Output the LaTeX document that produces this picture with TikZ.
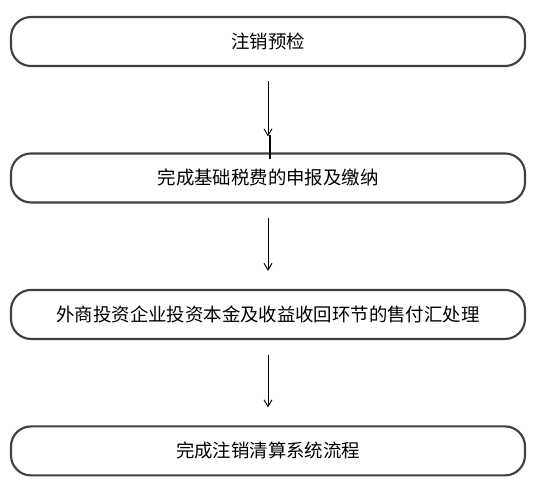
\documentclass[tikz,border=0pt]{standalone}
\usepackage{fontspec}
\setmainfont{Noto Sans CJK SC}
\usetikzlibrary{arrows.meta,positioning}
\definecolor{box-border}{HTML}{404040}

\begin{document}
\begin{tikzpicture}[x=0.75pt, y=-0.75pt, node distance=64pt,
    >={Straight Barb[length=5pt, width=6pt]},
    stage/.style={draw=box-border, line width=1.6pt, rounded corners=15pt,
      minimum width=385.5pt, minimum height=36.75pt,
      font=\fontsize{13.8}{16}\selectfont},
    flow/.style={->, line width=0.7pt}]
    \useasboundingbox (0,0) rectangle (535,490);
    \node[stage] (precheck) at (268,41.5) {注销预检};
    \node[stage, below=of precheck] (tax) {完成基础税费的申报及缴纳};
    \node[stage, below=of tax] (remit) {外商投资企业投资本金及收益收回环节的售付汇处理};
    \node[stage, below=of remit] (finish) {完成注销清算系统流程};
    \draw[flow, shorten <=10.5pt, shorten >=12pt] (precheck) -- (tax);
    \draw[line width=1pt] ([xshift=1.5pt, yshift=-5pt]tax.north) -- ++(0,-24);
    \draw[flow, shorten <=10.5pt, shorten >=13.5pt] (tax) -- (remit);
    \draw[flow, shorten <=11pt, shorten >=13.5pt] (remit) -- (finish);
\end{tikzpicture}
\end{document}
